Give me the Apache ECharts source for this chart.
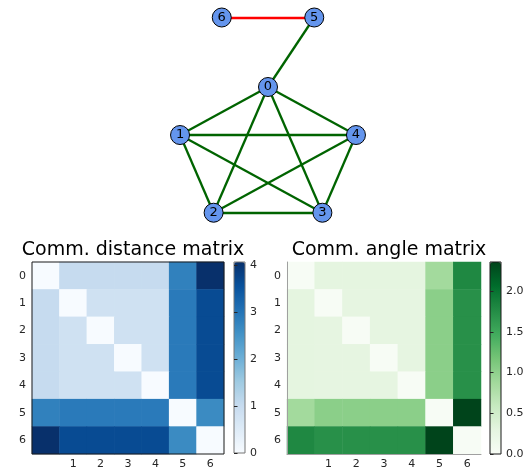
<!DOCTYPE html>
<html>
<head>
<meta charset="utf-8">
<script src="https://cdn.jsdelivr.net/npm/echarts@6/dist/echarts.min.js"></script>
<style>
  html, body { margin: 0; padding: 0; background: #fff; }
  #chart { width: 531px; height: 470px; }
</style>
</head>
<body>
<div id="chart"></div>
<script>
const FONT = 'DejaVu Sans';
const BLUES  = ['#f7fbff', '#deebf7', '#c6dbef', '#9ecae1', '#6baed6', '#4292c6', '#2171b5', '#08519c', '#08306b'];
const GREENS = ['#f7fcf5', '#e5f5e0', '#c7e9c0', '#a1d99b', '#74c476', '#41ab5d', '#238b45', '#006d2c', '#00441b'];

// graph: node positions (pentagon + two extra nodes), edges
const nodeNames = ['0', '1', '2', '3', '4', '5', '6'];
const nodeX = [0, -0.951, -0.588, 0.588, 0.951, 0.5, -0.5];
const nodeY = [1, 0.309, -0.809, -0.809, 0.309, 2, 2];
const edges = [[0, 1], [0, 2], [0, 3], [0, 4], [1, 2], [1, 3], [1, 4], [2, 3], [2, 4], [3, 4], [0, 5], [5, 6]];
const edgeColors = ['#006400', '#006400', '#006400', '#006400', '#006400', '#006400', '#006400', '#006400', '#006400', '#006400', '#006400', '#ff0000'];

// matrices
const labels = ['0', '1', '2', '3', '4', '5', '6'];
const distMatrix = [
  [0,    1.02, 1.02, 1.02, 1.02, 2.8,  4.06],
  [1.02, 0,    0.82, 0.82, 0.82, 2.9,  3.65],
  [1.02, 0.82, 0,    0.82, 0.82, 2.9,  3.65],
  [1.02, 0.82, 0.82, 0,    0.82, 2.9,  3.65],
  [1.02, 0.82, 0.82, 0.82, 0,    2.9,  3.65],
  [2.8,  2.9,  2.9,  2.9,  2.9,  0,    2.65],
  [4.06, 3.65, 3.65, 3.65, 3.65, 2.65, 0],
];
const angleMatrix = [
  [0,    0.29, 0.29, 0.29, 0.29, 0.87, 1.80],
  [0.29, 0,    0.28, 0.28, 0.28, 1.03, 1.72],
  [0.29, 0.28, 0,    0.28, 0.28, 1.03, 1.72],
  [0.29, 0.28, 0.28, 0,    0.28, 1.03, 1.72],
  [0.29, 0.28, 0.28, 0.28, 0,    1.03, 1.72],
  [0.87, 1.03, 1.03, 1.03, 1.03, 0,    2.356],
  [1.80, 1.72, 1.72, 1.72, 1.72, 2.356, 0],
];
const distMax = 4.06;
const angleMax = 2.356;
const distTicks = [0, 1, 2, 3, 4];
const angleTicks = [0, 0.5, 1, 1.5, 2];

function toCells(m) {
  const out = [];
  m.forEach((row, r) => row.forEach((v, c) => out.push([c, r, v])));
  return out;
}

const tickText = { color: '#262626', fontSize: 11, fontFamily: FONT };

function matrixAxes(gridIndex, lineColor) {
  const x = {
    type: 'category', gridIndex, data: labels, z: 10,
    axisLine: { show: !!lineColor, lineStyle: { color: lineColor || '#000', width: 1 } },
    axisTick: { alignWithLabel: true, length: 3.5, interval: (i) => i !== 0, lineStyle: { color: '#262626' } },
    axisLabel: Object.assign({ interval: (i) => i !== 0, margin: 5 }, tickText),
    splitLine: { show: false },
  };
  const y = {
    type: 'category', gridIndex, data: labels, inverse: true, z: 10,
    axisLine: { show: !!lineColor, lineStyle: { color: lineColor || '#000', width: 1 } },
    axisTick: { alignWithLabel: true, length: 3.5, lineStyle: { color: '#262626' } },
    axisLabel: Object.assign({ margin: 6 }, tickText),
    splitLine: { show: false },
  };
  return [x, y];
}

const distAxes = matrixAxes(1, null);
const angleAxes = matrixAxes(2, '#a0a0a0');

const chart = echarts.init(document.getElementById('chart'), null, { renderer: 'canvas' });

chart.setOption({
  backgroundColor: '#fff',
  animation: false,
  title: [
    { text: 'Comm. distance matrix', left: 128, top: 236, textAlign: 'center',
      textStyle: { fontFamily: FONT, fontSize: 19, fontWeight: 'normal', color: '#000' } },
    { text: 'Comm. angle matrix', left: 384, top: 236, textAlign: 'center',
      textStyle: { fontFamily: FONT, fontSize: 19, fontWeight: 'normal', color: '#000' } },
  ],
  grid: [
    { left: 147.75, top: 3.6, width: 240.5, height: 229.35 },
    { left: 32, top: 262, width: 192, height: 192, show: true, z: 10,
      backgroundColor: 'transparent', borderColor: '#1a1a1a', borderWidth: 1 },
    { left: 287, top: 262, width: 194, height: 192 },
    { left: 234, top: 262, width: 11, height: 191, show: true, z: 10,
      backgroundColor: 'transparent', borderColor: '#777', borderWidth: 1 },
    { left: 490, top: 262, width: 11, height: 192, show: true, z: 10,
      backgroundColor: 'transparent', borderColor: '#1a1a1a', borderWidth: 1 },
  ],
  xAxis: [
    { type: 'value', gridIndex: 0, min: -1.3, max: 1.3, show: false },
    distAxes[0],
    angleAxes[0],
    { type: 'value', gridIndex: 3, show: false },
    { type: 'value', gridIndex: 4, show: false },
  ],
  yAxis: [
    { type: 'value', gridIndex: 0, min: -1.1, max: 2.2, show: false },
    distAxes[1],
    angleAxes[1],
    { type: 'value', gridIndex: 3, min: 0, max: distMax, position: 'right', z: 10,
      axisLine: { show: false }, splitLine: { show: false },
      axisTick: { show: true, length: 3.5, customValues: distTicks, lineStyle: { color: '#262626' } },
      axisLabel: Object.assign({ customValues: distTicks, margin: 5 }, tickText) },
    { type: 'value', gridIndex: 4, min: 0, max: angleMax, position: 'right', z: 10,
      axisLine: { show: false }, splitLine: { show: false },
      axisTick: { show: true, length: 3.5, customValues: angleTicks, lineStyle: { color: '#262626' } },
      axisLabel: Object.assign({ customValues: angleTicks, margin: 5, formatter: (v) => v.toFixed(1) }, tickText) },
  ],
  visualMap: [
    { type: 'continuous', seriesIndex: 1, min: 0, max: distMax, calculable: false,
      inRange: { color: BLUES }, left: 234, top: 262, itemWidth: 11, itemHeight: 191,
      padding: 0, text: null, showLabel: false, hoverLink: false },
    { type: 'continuous', seriesIndex: 2, min: 0, max: angleMax, calculable: false,
      inRange: { color: GREENS }, left: 490, top: 262, itemWidth: 11, itemHeight: 192,
      padding: 0, text: null, showLabel: false, hoverLink: false },
  ],
  series: [
    {
      type: 'graph',
      coordinateSystem: 'cartesian2d',
      xAxisIndex: 0,
      yAxisIndex: 0,
      symbol: 'circle',
      symbolSize: 19,
      z: 3,
      itemStyle: { color: '#6495ed', borderColor: '#000', borderWidth: 1 },
      label: { show: true, position: 'inside', color: '#000', fontSize: 13, fontFamily: FONT },
      data: nodeNames.map((n, i) => ({ name: n, value: [nodeX[i], nodeY[i]] })),
      links: edges.map((e, i) => ({
        source: nodeNames[e[0]], target: nodeNames[e[1]],
        lineStyle: { color: edgeColors[i], width: 2.3, opacity: 1 },
      })),
      lineStyle: { width: 2.3, opacity: 1, curveness: 0 },
      emphasis: { disabled: true },
    },
    {
      type: 'heatmap', xAxisIndex: 1, yAxisIndex: 1,
      data: toCells(distMatrix), itemStyle: { borderWidth: 0 }, emphasis: { disabled: true },
    },
    {
      type: 'heatmap', xAxisIndex: 2, yAxisIndex: 2,
      data: toCells(angleMatrix), itemStyle: { borderWidth: 0 }, emphasis: { disabled: true },
    },
  ],
});
</script>
</body>
</html>
